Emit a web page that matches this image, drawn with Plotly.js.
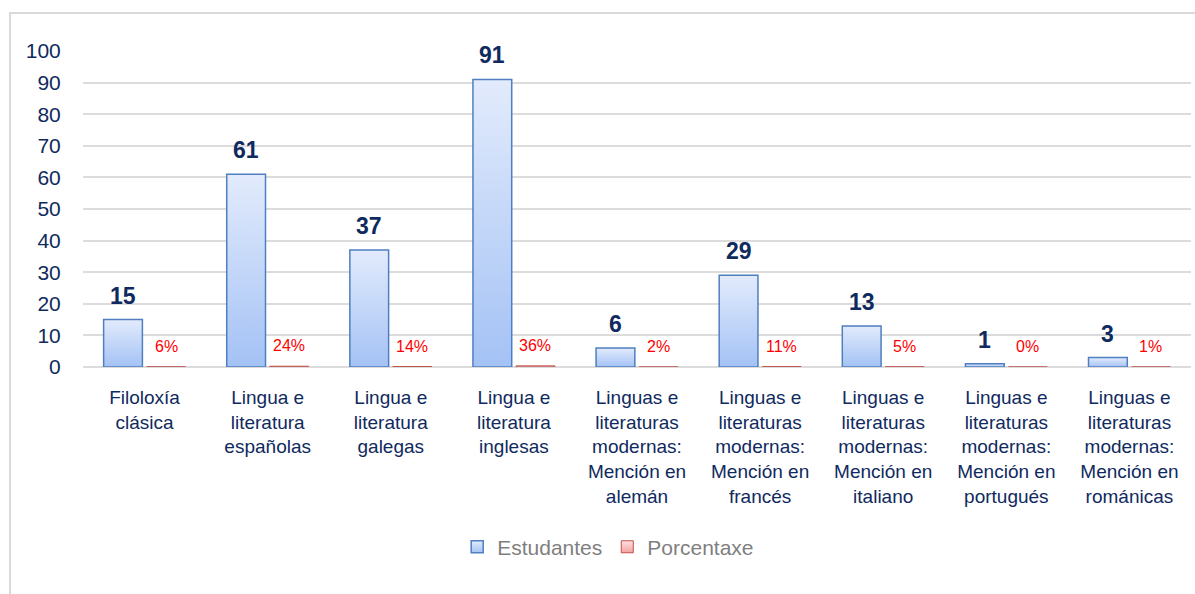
<!DOCTYPE html>
<html>
<head>
<meta charset="utf-8">
<script src="https://cdn.plot.ly/plotly-3.0.1.min.js"></script>
<style>
  html, body { margin: 0; padding: 0; background: #ffffff; }
  #wrap { position: relative; width: 1195px; height: 594px; overflow: hidden; }
  #chart { position: absolute; left: 0; top: 0; width: 1195px; height: 594px; }
  #frame { position: absolute; left: 9px; top: 12px; width: 1300px; height: 700px;
           border-left: 2px solid #d9d9d9; border-top: 2px solid #d9d9d9; pointer-events: none; z-index: 5; }
</style>
</head>
<body>
<div id="wrap">
  <div id="chart"></div>
  <div id="frame"></div>
</div>
<script>
// ---- data ----
const categories = [
  "Filoloxía<br>clásica",
  "Lingua e<br>literatura<br>españolas",
  "Lingua e<br>literatura<br>galegas",
  "Lingua e<br>literatura<br>inglesas",
  "Linguas e<br>literaturas<br>modernas:<br>Mención en<br>alemán",
  "Linguas e<br>literaturas<br>modernas:<br>Mención en<br>francés",
  "Linguas e<br>literaturas<br>modernas:<br>Mención en<br>italiano",
  "Linguas e<br>literaturas<br>modernas:<br>Mención en<br>portugués",
  "Linguas e<br>literaturas<br>modernas:<br>Mención en<br>románicas"
];
const estudantes = [15, 61, 37, 91, 6, 29, 13, 1, 3];
const porcentaxe = [0.06, 0.24, 0.14, 0.36, 0.02, 0.11, 0.05, 0.004, 0.01];
const yTickVals = [0, 10, 20, 30, 40, 50, 60, 70, 80, 90, 100];
const seriesNames = ["Estudantes", "Porcentaxe"];

// ---- styles ----
const navy = "#0f2a5e";
const numFont = "Liberation Sans, Arial, sans-serif";
const txtFont = "Liberation Sans, Arial, sans-serif";

const traces = [
  {
    type: "bar", name: seriesNames[0], x: categories, y: estudantes,
    marker: { color: "#c3d6f8", line: { color: "#4f7fc0", width: 1.5 } },
    hoverinfo: "skip"
  },
  {
    type: "bar", name: seriesNames[1], x: categories, y: porcentaxe,
    marker: { color: "#f3c4c4", line: { color: "#c0504d", width: 1 } },
    hoverinfo: "skip"
  }
];

const annotations = [];
categories.forEach((c, i) => {
  annotations.push({
    x: c, y: estudantes[i], xref: "x", yref: "y",
    text: String(estudantes[i]), showarrow: false,
    xanchor: "center", yanchor: "bottom", xshift: -21.5, yshift: 9,
    font: { family: numFont, size: 23, color: navy, weight: "bold" }
  });
  annotations.push({
    x: c, y: porcentaxe[i], xref: "x", yref: "y",
    text: Math.round(porcentaxe[i] * 100) + "%", showarrow: false,
    xanchor: "center", yanchor: "bottom", xshift: 21.5, yshift: 10,
    font: { family: numFont, size: 16, color: "#ff0000" }
  });
});

const layout = {
  width: 1195, height: 594,
  margin: { l: 83, r: 4, t: 51, b: 227 },
  paper_bgcolor: "#ffffff", plot_bgcolor: "#ffffff",
  barmode: "group", bargap: 0.3, bargroupgap: 0.1,
  showlegend: true,
  legend: {
    orientation: "h", x: 0.474, xanchor: "center", y: -0.57, yanchor: "middle",
    font: { family: txtFont, size: 21, color: "#7f7f7f" },
    itemwidth: 30, traceorder: "normal"
  },
  xaxis: {
    type: "category", showgrid: false, zeroline: false, showline: false,
    ticks: "outside", ticklen: 13, tickcolor: "rgba(0,0,0,0)",
    tickfont: { family: txtFont, size: 19, color: navy },
    tickangle: 0, automargin: false
  },
  yaxis: {
    range: [0, 100], tickvals: yTickVals, ticktext: yTickVals.map(String),
    showgrid: true, gridcolor: "#dcdcdc", gridwidth: 2,
    zeroline: true, zerolinecolor: "#dcdcdc", zerolinewidth: 2,
    showline: false, ticks: "outside", ticklen: 17, tickcolor: "rgba(0,0,0,0)",
    tickfont: { family: numFont, size: 21, color: navy }, automargin: false
  },
  annotations: annotations
};

function addGradients(gd) {
  const svg = gd.querySelector(".main-svg");
  if (!svg) return;
  let defs = svg.querySelector("defs");
  if (!defs) { defs = document.createElementNS("http://www.w3.org/2000/svg", "defs"); svg.insertBefore(defs, svg.firstChild); }
  const mk = (id, c1, c2) => {
    if (svg.querySelector("#" + id)) return;
    const g = document.createElementNS("http://www.w3.org/2000/svg", "linearGradient");
    g.setAttribute("id", id); g.setAttribute("x1", "0"); g.setAttribute("y1", "0");
    g.setAttribute("x2", "0"); g.setAttribute("y2", "1");
    [[0, c1], [1, c2]].forEach(([o, c]) => {
      const s = document.createElementNS("http://www.w3.org/2000/svg", "stop");
      s.setAttribute("offset", o); s.setAttribute("stop-color", c);
      g.appendChild(s);
    });
    defs.appendChild(g);
  };
  mk("gradBlue", "#e2ebfc", "#a4c2f5");
  mk("gradRed", "#ffe0e0", "#f3a3a3");
  const barTraces = gd.querySelectorAll(".barlayer .trace");
  if (barTraces[0]) barTraces[0].querySelectorAll("path").forEach(p => { p.style.fill = "url(#gradBlue)"; });
  const legTraces = gd.querySelectorAll(".legend .traces");
  if (legTraces[0]) legTraces[0].querySelectorAll(".legendpoints path").forEach(p => { p.style.fill = "url(#gradBlue)"; });
  if (legTraces[1]) legTraces[1].querySelectorAll(".legendpoints path").forEach(p => { p.style.fill = "url(#gradRed)"; });
}

Plotly.newPlot("chart", traces, layout, { displayModeBar: false, staticPlot: true }).then(addGradients);
</script>
</body>
</html>
